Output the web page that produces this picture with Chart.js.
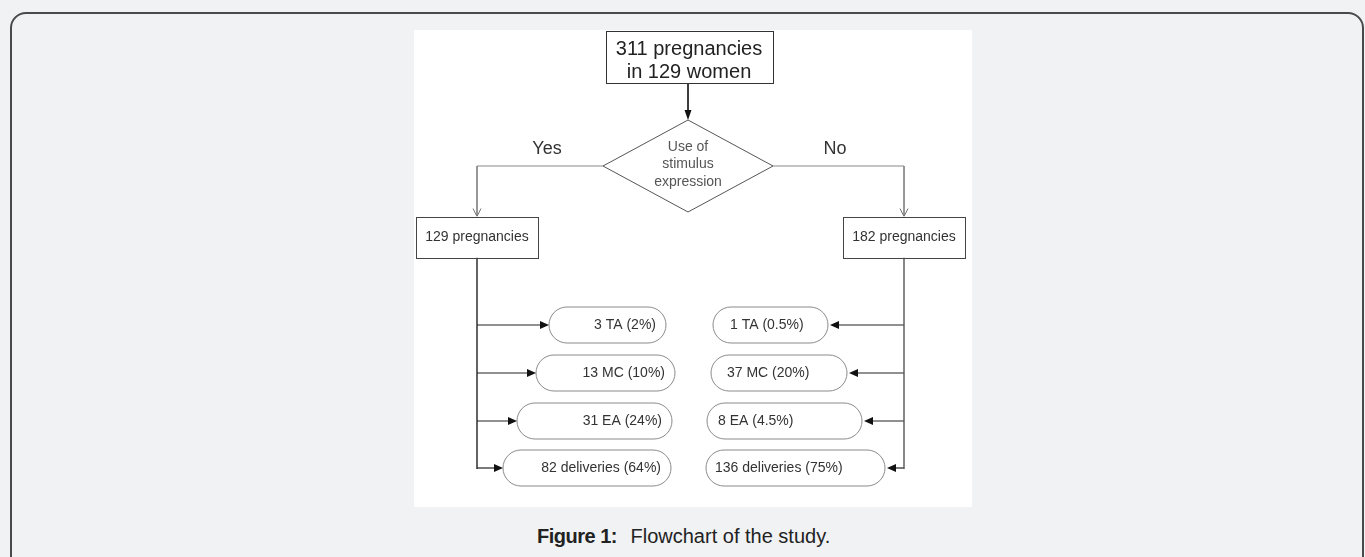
<!DOCTYPE html>
<html>
<head>
<meta charset="utf-8">
<script src="https://cdn.jsdelivr.net/npm/chart.js@4"></script>
<style>
  html, body { margin: 0; padding: 0; }
  body { width: 1365px; height: 557px; background: #f1f2f4; position: relative; overflow: hidden; font-family: 'Liberation Sans', Arial, sans-serif; }
  #frame { position: absolute; left: 10px; top: 12px; width: 1350px; height: 580px; border: 2px solid #4a4a4a; border-radius: 16px; }
  #panel { position: absolute; left: 414px; top: 30px; width: 558px; height: 477px; background: #fff; }
  #caption { position: absolute; left: 537px; top: 526px; font-size: 20px; line-height: 20px; color: #222; white-space: nowrap; }
  #caption b { margin-right: 8px; letter-spacing: -0.5px; }
</style>
</head>
<body>
<div id="frame"></div>
<div id="panel"><canvas id="flow" width="558" height="477"></canvas></div>
<div id="caption"><b>Figure 1:</b> Flowchart of the study.</div>
<script>
// flowchart content
const topLabel = ['311 pregnancies', 'in 129 women'];
const questionLines = ['Use of', 'stimulus', 'expression'];
const branchLabels = ['Yes', 'No'];
const groupLabels = ['129 pregnancies', '182 pregnancies'];
const yesOutcomes = ['3 TA (2%)', '13 MC (10%)', '31 EA (24%)', '82 deliveries (64%)'];
const noOutcomes = ['1 TA (0.5%)', '37 MC (20%)', '8 EA (4.5%)', '136 deliveries (75%)'];

// layout in diagram units (panel is 558 x 477)
const topBox = { x: 274, y: 27, w: 167, h: 52 };
const diamond = { x: 274, y: 136, hw: 85, hh: 46 };
const groupX = [63, 490];
const groupBox = { y: 207, w: 122, h: 41 };
const branchLabelX = [133, 421];
const rowY = [295, 343, 391, 438];
const yesSpan = [[135, 252], [122, 261], [103, 258], [89, 257]];
const noSpan = [[299, 414], [297, 433], [293, 448], [292, 471]];
const noTextX = [316, 313, 304, 301];
const pillH = 36;

const ctx = document.getElementById('flow');

function seg(points, color, width) {
  return {
    data: points.map(function (p) { return { x: p[0], y: p[1] }; }),
    showLine: true,
    borderColor: color,
    borderWidth: width,
    pointRadius: 0,
    fill: false,
  };
}

var datasets = [];
var boxBottom = groupBox.y + groupBox.h / 2;
var boxTop = groupBox.y - groupBox.h / 2;
// top box -> diamond
datasets.push(seg([[topBox.x, topBox.y + topBox.h / 2], [diamond.x, diamond.y - diamond.hh - 6]], '#222', 1));
// yes / no branches
datasets.push(seg([[diamond.x - diamond.hw, diamond.y], [groupX[0], diamond.y], [groupX[0], boxTop - 1]], '#888', 1));
datasets.push(seg([[diamond.x + diamond.hw, diamond.y], [groupX[1], diamond.y], [groupX[1], boxTop - 1]], '#888', 1));
// trunks
datasets.push(seg([[groupX[0], boxBottom], [groupX[0], rowY[3] + 1]], '#222', 1.4));
datasets.push(seg([[groupX[1], boxBottom], [groupX[1], rowY[3] + 1]], '#555', 1.4));
// outcome branches
for (let i = 0; i < rowY.length; i++) {
  datasets.push(seg([[groupX[0], rowY[i]], [yesSpan[i][0] - 6, rowY[i]]], '#222', 1.2));
  datasets.push(seg([[groupX[1], rowY[i]], [noSpan[i][1] + 8, rowY[i]]], '#222', 1.2));
}

const flowPlugin = {
  id: 'flow',
  afterDatasetsDraw(chart) {
    const c = chart.ctx;
    const sx = chart.scales.x, sy = chart.scales.y;
    const px = function (v) { return sx.getPixelForValue(v); };
    const py = function (v) { return sy.getPixelForValue(v); };
    const font = function (s) { return s + 'px "Liberation Sans", Arial, sans-serif'; };

    function arrow(tx, ty, dx, dy, len, half, filled, color) {
      const x0 = px(tx), y0 = py(ty);
      const bx = x0 - dx * len, by = y0 - dy * len;
      c.save();
      c.beginPath();
      c.moveTo(bx - dy * half, by + dx * half);
      c.lineTo(x0, y0);
      c.lineTo(bx + dy * half, by - dx * half);
      if (filled) {
        c.closePath();
        c.fillStyle = color;
        c.fill();
      } else {
        c.strokeStyle = color;
        c.lineWidth = 1;
        c.stroke();
      }
      c.restore();
    }

    function rect(cx, cy, w, h, color) {
      const l = px(cx - w / 2), t = py(cy - h / 2);
      c.save();
      c.fillStyle = '#fff';
      c.fillRect(l, t, px(cx + w / 2) - l, py(cy + h / 2) - t);
      c.strokeStyle = color;
      c.lineWidth = 1;
      c.strokeRect(Math.round(l) + 0.5, Math.round(t) + 0.5, Math.round(px(cx + w / 2) - l), Math.round(py(cy + h / 2) - t));
      c.restore();
    }

    function pill(x1, x2, cy) {
      const l = px(x1), r = px(x2), t = py(cy - pillH / 2), b = py(cy + pillH / 2);
      const rad = (b - t) / 2;
      c.save();
      c.beginPath();
      c.moveTo(l + rad, t);
      c.lineTo(r - rad, t);
      c.arc(r - rad, t + rad, rad, -Math.PI / 2, Math.PI / 2);
      c.lineTo(l + rad, b);
      c.arc(l + rad, t + rad, rad, Math.PI / 2, Math.PI * 1.5);
      c.closePath();
      c.fillStyle = '#fff';
      c.fill();
      c.strokeStyle = '#8a8a8a';
      c.lineWidth = 1;
      c.stroke();
      c.restore();
    }

    function text(s, x, y, size, color, align) {
      c.save();
      c.font = font(size);
      c.fillStyle = color;
      c.textAlign = align || 'center';
      c.textBaseline = 'middle';
      c.fillText(s, px(x), py(y));
      c.restore();
    }

    // top box
    rect(topBox.x + 1, topBox.y, topBox.w, topBox.h, '#333');
    text(topLabel[0], topBox.x + 1, topBox.y - 8, 20, '#222');
    text(topLabel[1], topBox.x + 1, topBox.y + 15, 20, '#222');
    arrow(diamond.x, diamond.y - diamond.hh, 0, 1, 10, 3.5, true, '#111');

    // decision diamond
    c.save();
    c.beginPath();
    c.moveTo(px(diamond.x), py(diamond.y - diamond.hh));
    c.lineTo(px(diamond.x + diamond.hw), py(diamond.y));
    c.lineTo(px(diamond.x), py(diamond.y + diamond.hh));
    c.lineTo(px(diamond.x - diamond.hw), py(diamond.y));
    c.closePath();
    c.fillStyle = '#fff';
    c.fill();
    c.strokeStyle = '#555';
    c.lineWidth = 1;
    c.stroke();
    c.restore();
    questionLines.forEach(function (s, i) {
      text(s, diamond.x, diamond.y - 19 + i * 17.5, 14, '#555');
    });

    // yes / no
    branchLabels.forEach(function (s, i) {
      text(s, branchLabelX[i], diamond.y - 17, 18, '#333');
      arrow(groupX[i], boxTop, 0, 1, 8, 4, false, '#777');
      rect(groupX[i], groupBox.y, groupBox.w, groupBox.h, '#444');
      text(groupLabels[i], groupX[i], groupBox.y, 14, '#333');
    });

    // outcomes
    for (let i = 0; i < rowY.length; i++) {
      pill(yesSpan[i][0], yesSpan[i][1], rowY[i]);
      arrow(yesSpan[i][0], rowY[i], 1, 0, 9, 4, true, '#111');
      text(yesOutcomes[i], yesSpan[i][1] - 10, rowY[i], 14, '#333', 'right');
      pill(noSpan[i][0], noSpan[i][1], rowY[i]);
      arrow(noSpan[i][1] + 2, rowY[i], -1, 0, 9, 4, true, '#111');
      text(noOutcomes[i], noTextX[i], rowY[i], 14, '#333', 'left');
    }
  },
};

new Chart(ctx, {
  type: 'scatter',
  data: { datasets: datasets },
  options: {
    responsive: false,
    animation: false,
    events: [],
    layout: { padding: 0 },
    plugins: { legend: { display: false }, tooltip: { enabled: false }, title: { display: false } },
    scales: {
      x: { type: 'linear', min: 0, max: 558, display: false },
      y: { type: 'linear', min: 0, max: 477, reverse: true, display: false },
    },
  },
  plugins: [flowPlugin],
});
</script>
</body>
</html>
